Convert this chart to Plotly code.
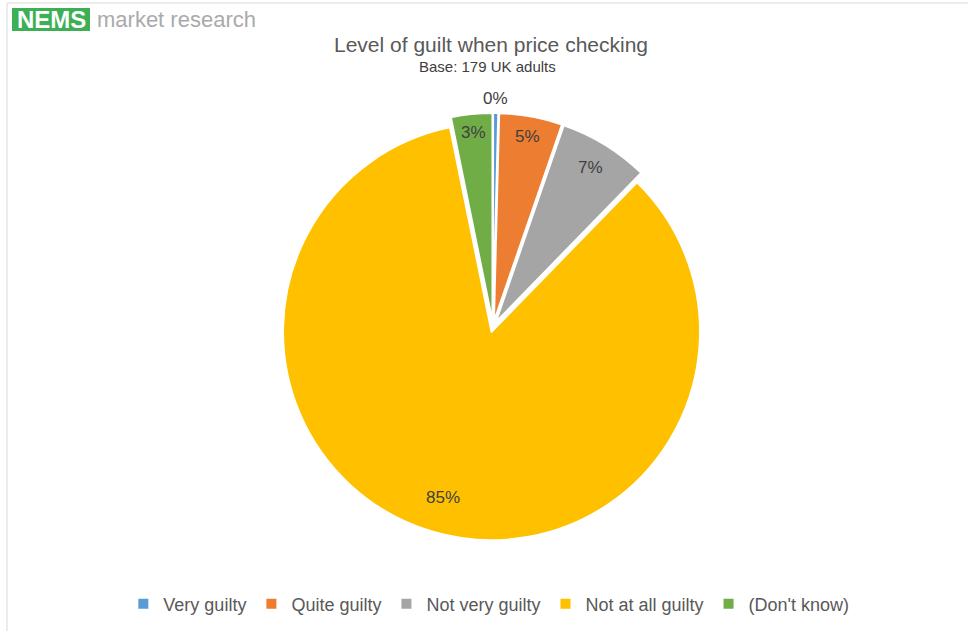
import math
import plotly.graph_objects as go

# Survey responses: level of guilt when price checking (share of respondents, %)
categories = ["Very guilty", "Quite guilty", "Not very guilty", "Not at all guilty", "(Don't know)"]
shares = [0.4, 4.9, 7.0, 84.6, 3.2]
colors = ["#5B9BD5", "#ED7D31", "#A5A5A5", "#FFC000", "#70AD47"]

# radial placement of each percentage label, as a fraction of the pie radius
label_radius = [1.07, 0.90, 0.87, 0.83, 0.91]

W, H = 968, 631
PULL = 0.025
CX, CY, R = 493.0, 326.7, 208.5  # pie centre and radius in pixels
FONT = "Liberation Sans, Arial, sans-serif"


def px_x(v):
    return v / W


def px_y(v):
    return 1 - v / H


fig = go.Figure(
    go.Pie(
        labels=categories,
        values=shares,
        sort=False,
        direction="clockwise",
        rotation=0,
        marker=dict(colors=colors, line=dict(color="white", width=2)),
        pull=[PULL] * len(categories),
        textinfo="none",
        domain=dict(
            x=[px_x(CX - R * (1 + PULL)), px_x(CX + R * (1 + PULL))],
            y=[px_y(CY + R * (1 + PULL)), px_y(CY - R * (1 + PULL))],
        ),
        hoverinfo="label+percent",
    )
)

# percentage labels placed at each slice's bisector
total = sum(shares)
annotations = []
cum = 0.0
for share, frac in zip(shares, label_radius):
    mid = (cum + share / 2) / total * 2 * math.pi
    cum += share
    dist = PULL * R + frac * R
    x = CX + dist * math.sin(mid)
    y = CY - dist * math.cos(mid)
    annotations.append(dict(
        text=f"{round(share / total * 100)}%", x=px_x(x), y=px_y(y),
        xref="paper", yref="paper", xanchor="center", yanchor="middle",
        showarrow=False, font=dict(size=17, color="#404040", family=FONT),
    ))

annotations += [
    dict(text="Level of guilt when price checking", x=px_x(491), y=px_y(44),
         xref="paper", yref="paper", xanchor="center", yanchor="middle",
         showarrow=False, font=dict(size=21, color="#595959")),
    dict(text="Base: 179 UK adults", x=px_x(487), y=px_y(67),
         xref="paper", yref="paper", xanchor="center", yanchor="middle",
         showarrow=False, font=dict(size=15, color="#404040")),
    dict(text="<b>NEMS</b>", x=px_x(51), y=px_y(19.5),
         xref="paper", yref="paper", xanchor="center", yanchor="middle",
         showarrow=False, font=dict(size=24, color="white")),
    dict(text="market research", x=px_x(95), y=px_y(20),
         xref="paper", yref="paper", xanchor="left", yanchor="middle",
         showarrow=False, font=dict(size=22, color="#AAAAAA")),
]

fig.update_layout(
    width=W,
    height=H,
    margin=dict(l=0, r=0, t=0, b=0),
    paper_bgcolor="white",
    plot_bgcolor="white",
    font=dict(family=FONT, color="#595959"),
    showlegend=True,
    legend=dict(
        orientation="h",
        x=0.505,
        xanchor="center",
        y=px_y(604),
        yanchor="middle",
        font=dict(size=18, color="#595959"),
        itemclick=False,
    ),
    annotations=annotations,
    shapes=[
        # logo badge
        dict(type="rect", xref="paper", yref="paper",
             x0=px_x(12), x1=px_x(90), y0=px_y(31), y1=px_y(8),
             fillcolor="#3DAF55", line=dict(width=0), layer="below"),
        # chart frame (top and left edges)
        dict(type="line", xref="paper", yref="paper",
             x0=px_x(7), x1=1, y0=px_y(3), y1=px_y(3),
             line=dict(color="#D9D9D9", width=1)),
        dict(type="line", xref="paper", yref="paper",
             x0=px_x(7), x1=px_x(7), y0=px_y(3), y1=0,
             line=dict(color="#D9D9D9", width=1)),
    ],
)

fig.write_html("out.html")
